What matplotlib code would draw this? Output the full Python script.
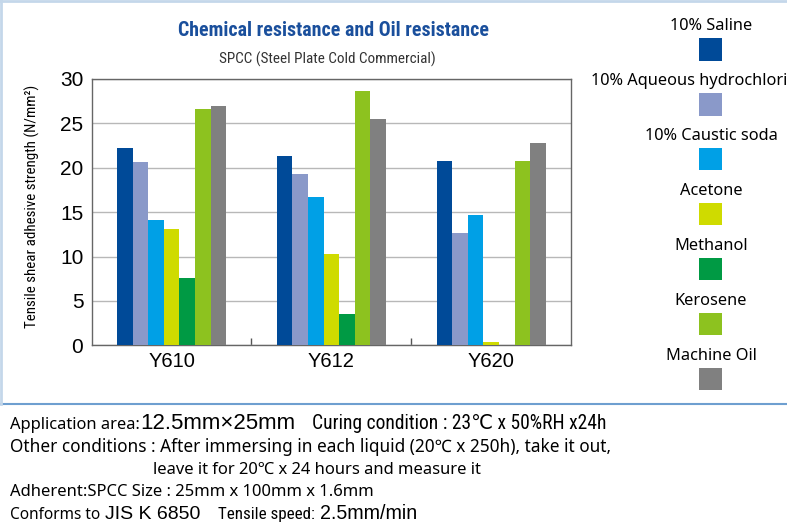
import matplotlib
matplotlib.use('Agg')
import matplotlib.pyplot as plt
import numpy as np
from matplotlib import font_manager as fm
from matplotlib.patches import Rectangle
from matplotlib.lines import Line2D

# ---------------- data ----------------
products = ['Y610', 'Y612', 'Y620']
liquids = ['10% Saline', '10% Aqueous hydrochloric acid', '10% Caustic soda',
           'Acetone', 'Methanol', 'Kerosene', 'Machine Oil']
saline = [22.2, 21.35, 20.75]
hydrochloric = [20.7, 19.25, 12.7]
caustic_soda = [14.15, 16.7, 14.7]
acetone = [13.1, 10.3, 0.35]
methanol = [7.6, 3.5, 0.0]
kerosene = [26.6, 28.65, 20.75]
machine_oil = [27.0, 25.5, 22.75]
series = [saline, hydrochloric, caustic_soda, acetone, methanol, kerosene, machine_oil]
colors = ['#004a98', '#8a99c9', '#00a0e6', '#cfdb00', '#009a44', '#8dc21f', '#808080']
yticks = [0, 5, 10, 15, 20, 25, 30]

title = 'Chemical resistance and Oil resistance'
subtitle = 'SPCC (Steel Plate Cold Commercial)'
ylabel = 'Tensile shear adhesive strength (N/mm²)'

# ---------------- fonts ----------------
names = {f.name for f in fm.fontManager.ttflist}
def pick(*cands, default='DejaVu Sans'):
    for c in cands:
        if c in names:
            return c
    return default

narrow = pick('Liberation Sans Narrow', 'DejaVu Sans Condensed', 'Roboto Condensed',
              'Open Sans Condensed', 'Noto Sans')
regular = pick('Noto Sans', 'Open Sans', 'DejaVu Sans')
arial = pick('Liberation Sans', 'DejaVu Sans')
NARROW = [narrow, 'DejaVu Sans']
REG = [regular, 'DejaVu Sans']
ARIAL = [arial, 'DejaVu Sans']

W, H = 787, 524
fig = plt.figure(figsize=(W / 100, H / 100), dpi=100)
renderer = fig.canvas.get_renderer()

def fx(x):
    return x / W

def fy(y):
    return 1 - y / H

def fit(t, target, vertical=False):
    bb = t.get_window_extent(renderer)
    cur = bb.height if vertical else bb.width
    t.set_fontsize(t.get_fontsize() * target / cur)
    return t

def ftext(x, y, s, target=None, vertical=False, **kw):
    t = fig.text(fx(x), fy(y), s, **kw)
    if target is not None:
        fit(t, target, vertical)
    return t

# ---------------- axes ----------------
L, R, T, B = 91.7, 571.0, 79.0, 345.3
ax = fig.add_axes([fx(L), fy(B), fx(R - L), (B - T) / H])
x = np.arange(len(products))
bw = 0.0976
offs = (np.arange(len(series)) - (len(series) - 1) / 2) * bw
for i, vals in enumerate(series):
    ax.bar(x + offs[i], vals, bw, color=colors[i], zorder=3, linewidth=0)

ax.set_xlim(-0.5, len(products) - 0.5)
ax.set_ylim(0, 30)
ax.set_yticks(yticks)
ax.yaxis.grid(True, color='#b8b8b8', lw=1)
ax.set_axisbelow(True)
ax.set_xticks(x)
ax.set_xticklabels(products, fontfamily=ARIAL, fontsize=14.5)
for lab in ax.get_yticklabels():
    lab.set_fontfamily(ARIAL)
    lab.set_fontsize(15)
ax.tick_params(axis='y', length=0, pad=6, colors='black')
ax.tick_params(axis='x', which='major', length=0, pad=5)
ax.set_xticks([0.5, 1.5], minor=True)
ax.tick_params(axis='x', which='minor', direction='in', length=5, width=1, color='#555555')
for sp in ax.spines.values():
    sp.set_color('#666666')
    sp.set_linewidth(1)

# ---------------- titles ----------------
ftext(333.3, 36.5, title, target=312, ha='center', va='baseline',
      fontfamily=NARROW, fontweight='bold', color='#1a4f9c', fontsize=14)
ftext(327.5, 64, subtitle, target=215, ha='center', va='baseline',
      fontfamily=NARROW, color='#333333', fontsize=10)
ftext(32, 206, ylabel, target=242, vertical=True, ha='center', va='center',
      rotation=90, fontfamily=NARROW, color='black', fontsize=10)

# ---------------- legend ----------------
pc_x, pw, ph = 710.5, 22.7, 22.3
p0, step = 49.5, 54.88
t0 = ftext(711, p0 - 19, liquids[0], target=82.7, ha='center', va='baseline',
           fontfamily=REG, fontsize=11)
lsize = t0.get_fontsize()
for i, name in enumerate(liquids):
    cy = p0 + i * step
    if i > 0:
        ftext(711, cy - 19, name, ha='center', va='baseline', fontfamily=REG, fontsize=lsize)
    fig.add_artist(Rectangle((fx(pc_x - pw / 2), fy(cy + ph / 2)), pw / W, ph / H,
                             transform=fig.transFigure, facecolor=colors[i], edgecolor='none'))

# ---------------- frame ----------------
fig.add_artist(Line2D([fx(0), fx(W)], [fy(404), fy(404)], color='#6e9fd0', lw=1.5,
                      transform=fig.transFigure))
fig.add_artist(Line2D([fx(1), fx(1)], [fy(0), fy(404)], color='#c4d7ea', lw=2,
                      transform=fig.transFigure))
fig.add_artist(Line2D([fx(0), fx(W)], [fy(1), fy(1)], color='#c4d7ea', lw=2,
                      transform=fig.transFigure))

# ---------------- notes ----------------
notes = [
    (10, 429, 'Application area:', 130, REG),
    (140, 429, '12.5mm×25mm', 155, ARIAL),
    (312, 429, 'Curing condition : 23℃ x 50%RH x24h', 294, NARROW),
    (10, 451.5, 'Other conditions : After immersing in each liquid (20℃ x 250h), take it out,', 597, REG),
    (153, 474, 'leave it for 20℃ x 24 hours and measure it', 329, REG),
    (10, 496.5, 'Adherent:SPCC Size : 25mm x 100mm x 1.6mm', 364, REG),
    (10, 519, 'Conforms to', 90, REG),
    (105, 519, 'JIS K 6850', 95, ARIAL),
    (218, 519, 'Tensile speed:', 97, NARROW),
    (320, 519, '2.5mm/min', 97, ARIAL),
]
for nx, ny, s, wdt, fam in notes:
    ftext(nx, ny, s, target=wdt, ha='left', va='baseline', fontfamily=fam,
          color='black', fontsize=12)

fig.savefig('out.png', dpi=100)
